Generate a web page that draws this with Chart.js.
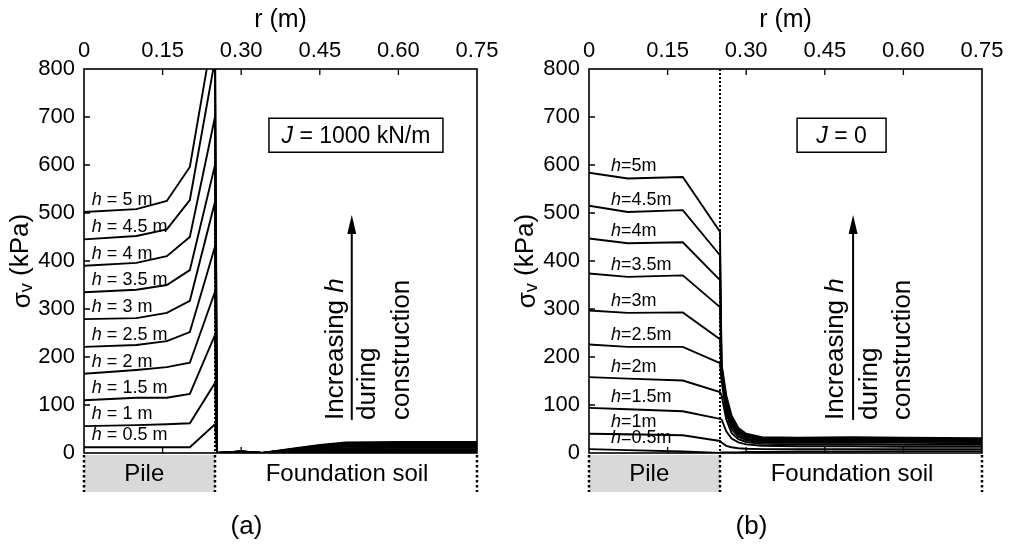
<!DOCTYPE html>
<html>
<head>
<meta charset="utf-8">
<script src="https://cdn.jsdelivr.net/npm/chart.js"></script>
<style>
  body { margin: 0; background: #fff; }
  canvas.panel { position: absolute; top: 0; }
</style>
</head>
<body>
<canvas id="chartA" class="panel" width="505" height="545" style="left:0px"></canvas>
<canvas id="chartB" class="panel" width="505" height="545" style="left:505px"></canvas>
<script>
// ---- data ----
const heights = ["0.5", "1", "1.5", "2", "2.5", "3", "3.5", "4", "4.5", "5"];
const rTicks = [0, 0.15, 0.30, 0.45, 0.60, 0.75];
const rTickLabels = ["0", "0.15", "0.30", "0.45", "0.60", "0.75"];
const sigmaTicks = [0, 100, 200, 300, 400, 500, 600, 700, 800];
const pileRadius = 0.25;

// panel (a) J = 1000 kN/m
const rA = [0, 0.10, 0.158, 0.202, 0.25, 0.254, 0.30, 0.34, 0.39, 0.45, 0.50, 0.60, 0.75];
const sigmaA_h05 = [12, 12, 12, 12, 60, 0, 1, 0, 1, 2, 2, 2, 2];
const sigmaA_h10 = [56, 58, 60, 62, 146, 0, 1, 0, 2, 4, 5, 5, 5];
const sigmaA_h15 = [110, 115, 115, 123, 246, 0, 2, 0, 3, 6, 8, 8, 8];
const sigmaA_h20 = [165, 173, 179, 188, 336, 0, 2, 0, 4, 8, 10, 11, 11];
const sigmaA_h25 = [221, 225, 233, 252, 430, 0, 2, 0, 5, 10, 13, 13, 13];
const sigmaA_h30 = [279, 281, 292, 317, 523, 0, 3, 0, 5, 11, 15, 15, 15];
const sigmaA_h35 = [335, 340, 350, 381, 600, 0, 3, 0, 6, 13, 17, 17, 17];
const sigmaA_h40 = [390, 396, 410, 450, 700, 0, 3, 0, 7, 14, 19, 19, 19];
const sigmaA_h45 = [445, 452, 466, 527, 820, 0, 3, 0, 7, 16, 21, 21, 21];
const sigmaA_h50 = [502, 508, 525, 596, 900, 0, 3, 0, 8, 17, 22, 23, 23];

// panel (b) J = 0
const rB = [0, 0.074, 0.179, 0.25, 0.253, 0.262, 0.272, 0.285, 0.30, 0.33, 0.40, 0.50, 0.60, 0.75];
const sigmaB_h05 = [8, 6, 3, 0, 1, 1, 1, 1, 2, 2, 3, 3, 4, 4];
const sigmaB_h10 = [40, 39, 37, 25, 22, 15, 12, 10, 9, 8, 8, 8, 8, 8];
const sigmaB_h15 = [94, 91, 87, 71, 70, 45, 30, 22, 18, 15, 14, 14, 13, 13];
const sigmaB_h20 = [158, 155, 151, 127, 120, 70, 42, 29, 23, 19, 18, 18, 17, 17];
const sigmaB_h25 = [226, 221, 221, 187, 150, 82, 50, 34, 27, 22, 21, 21, 21, 20];
const sigmaB_h30 = [297, 292, 293, 237, 160, 90, 57, 38, 30, 25, 24, 24, 24, 23];
const sigmaB_h35 = [374, 367, 370, 304, 170, 98, 62, 42, 33, 27, 26, 27, 26, 25];
const sigmaB_h40 = [447, 437, 439, 360, 175, 105, 67, 45, 35, 29, 28, 29, 28, 27];
const sigmaB_h45 = [515, 502, 506, 412, 180, 112, 72, 48, 37, 31, 30, 31, 30, 29];
const sigmaB_h50 = [584, 572, 575, 461, 185, 120, 78, 52, 40, 33, 32, 33, 32, 31];

const seriesA = [sigmaA_h05, sigmaA_h10, sigmaA_h15, sigmaA_h20, sigmaA_h25,
                 sigmaA_h30, sigmaA_h35, sigmaA_h40, sigmaA_h45, sigmaA_h50];
const seriesB = [sigmaB_h05, sigmaB_h10, sigmaB_h15, sigmaB_h20, sigmaB_h25,
                 sigmaB_h30, sigmaB_h35, sigmaB_h40, sigmaB_h45, sigmaB_h50];

const FONT = "'Liberation Sans', Arial, sans-serif";
Chart.defaults.font.family = FONT;
Chart.defaults.color = '#000';

// draws pieces of text one after the other, some in italic
function drawParts(ctx, parts, x, y, size) {
    parts.forEach(p => {
        ctx.font = (p.italic ? 'italic ' : '') + size + 'px ' + FONT;
        ctx.fillText(p.t, x, y);
        x += ctx.measureText(p.t).width;
    });
}

const panelDecor = {
    id: 'panelDecor',
    beforeDatasetsDraw(chart, args, o) {
        const {ctx, chartArea: ca, scales: {x}} = chart;
        ctx.save();
        ctx.strokeStyle = '#000';
        ctx.lineWidth = 2;
        ctx.setLineDash([2, 2]);
        const px = x.getPixelForValue(pileRadius);
        ctx.beginPath();
        ctx.moveTo(px, ca.top);
        ctx.lineTo(px, ca.bottom);
        ctx.stroke();
        ctx.restore();
    },
    afterDraw(chart, args, o) {
        const {ctx, chartArea: ca, scales: {x, y}} = chart;
        ctx.save();
        ctx.strokeStyle = '#000';
        ctx.fillStyle = '#000';

        // frame and inward ticks
        ctx.lineWidth = 1.6;
        ctx.strokeRect(ca.left, ca.top, ca.right - ca.left, ca.bottom - ca.top);
        ctx.lineWidth = 1.3;
        ctx.beginPath();
        rTicks.slice(1, -1).forEach(v => {
            const px = x.getPixelForValue(v);
            ctx.moveTo(px, ca.top); ctx.lineTo(px, ca.top + 6);
            ctx.moveTo(px, ca.bottom); ctx.lineTo(px, ca.bottom - 6);
        });
        sigmaTicks.slice(1, -1).forEach(v => {
            const py = y.getPixelForValue(v);
            ctx.moveTo(ca.left, py); ctx.lineTo(ca.left + 6, py);
        });
        ctx.stroke();

        // pile / foundation soil strip
        const x0 = x.getPixelForValue(0), xp = x.getPixelForValue(pileRadius), x1 = x.getPixelForValue(0.75);
        ctx.fillStyle = '#d9d9d9';
        ctx.fillRect(x0, ca.bottom + 2, xp - x0, 37);
        ctx.lineWidth = 2.5;
        ctx.setLineDash([2.5, 2.5]);
        ctx.beginPath();
        [x0, xp, x1].forEach(px => { ctx.moveTo(px, ca.bottom + 2); ctx.lineTo(px, ca.bottom + 39); });
        ctx.stroke();
        ctx.setLineDash([]);
        ctx.fillStyle = '#000';
        ctx.font = '24px ' + FONT;
        ctx.textAlign = 'center';
        ctx.textBaseline = 'middle';
        ctx.fillText('Pile', x.getPixelForValue(0.115), ca.bottom + 21);
        ctx.fillText('Foundation soil', x.getPixelForValue(0.502), ca.bottom + 21);
        ctx.font = '26px ' + FONT;
        ctx.fillText(o.panel, x.getPixelForValue(0.31), 527);

        // y title with subscript
        ctx.save();
        ctx.translate(30, (ca.top + ca.bottom) / 2);
        ctx.rotate(-Math.PI / 2);
        ctx.textAlign = 'left';
        ctx.textBaseline = 'alphabetic';
        ctx.font = '26px ' + FONT;
        const wS = ctx.measureText('σ').width;
        const wK = ctx.measureText(' (kPa)').width;
        ctx.font = '18px ' + FONT;
        const wV = ctx.measureText('v').width;
        const tx = -(wS + wV + wK) / 2;
        ctx.font = '26px ' + FONT;
        ctx.fillText('σ', tx, 0);
        ctx.font = '18px ' + FONT;
        ctx.fillText('v', tx + wS, 2);
        ctx.font = '26px ' + FONT;
        ctx.fillText(' (kPa)', tx + wS + wV, -2);
        ctx.restore();

        // curve labels
        ctx.textAlign = 'left';
        ctx.textBaseline = 'middle';
        o.series.forEach((s, i) => {
            const ly = y.getPixelForValue(s[o.labelIndex]) - 12;
            const parts = [{t: 'h', italic: true}, {t: o.labelFmt(heights[i])}];
            drawParts(ctx, parts, x.getPixelForValue(o.labelR), ly, 18);
        });

        // J box
        const bx = x.getPixelForValue(o.boxR), by = y.getPixelForValue(662);
        ctx.lineWidth = 1.5;
        ctx.strokeRect(bx - o.boxW / 2, by - 17, o.boxW, 34);
        let w = 0;
        o.boxParts.forEach(p => {
            ctx.font = (p.italic ? 'italic ' : '') + '23px ' + FONT;
            w += ctx.measureText(p.t).width;
        });
        drawParts(ctx, o.boxParts, bx - w / 2, by + 1, 23);

        // arrow and rotated notes
        const ax = x.getPixelForValue(o.arrowR);
        const yb = y.getPixelForValue(69), yt = y.getPixelForValue(496);
        ctx.lineWidth = 2;
        ctx.beginPath();
        ctx.moveTo(ax, yb);
        ctx.lineTo(ax, yt + 16);
        ctx.stroke();
        ctx.beginPath();
        ctx.moveTo(ax, yt);
        ctx.lineTo(ax - 4.5, yt + 19);
        ctx.lineTo(ax + 4.5, yt + 19);
        ctx.closePath();
        ctx.fill();

        const note = (r, parts) => {
            ctx.save();
            ctx.translate(x.getPixelForValue(r), yb);
            ctx.rotate(-Math.PI / 2);
            ctx.textAlign = 'left';
            ctx.textBaseline = 'alphabetic';
            drawParts(ctx, parts, 0, 0, 26);
            ctx.restore();
        };
        note(o.noteR[0], [{t: 'Increasing '}, {t: 'h', italic: true}]);
        note(o.noteR[1], [{t: 'during'}]);
        note(o.noteR[2], [{t: 'construction'}]);

        ctx.restore();
    }
};

function makeChart(id, rValues, series, decor) {
    const datasets = series.map((s, i) => ({
        label: 'h = ' + heights[i] + ' m',
        data: rValues.map((r, j) => ({x: r, y: s[j]})),
        borderColor: '#000',
        borderWidth: 1.9,
        pointRadius: 0,
        tension: 0,
        fill: false
    }));
    return new Chart(document.getElementById(id), {
        type: 'line',
        data: {datasets: datasets},
        options: {
            responsive: false,
            animation: false,
            devicePixelRatio: 1,
            layout: {padding: {left: 0, top: 0, right: 28, bottom: 92}},
            plugins: {
                legend: {display: false},
                tooltip: {enabled: false},
                panelDecor: Object.assign({series: series}, decor)
            },
            scales: {
                x: {
                    type: 'linear',
                    position: 'top',
                    min: 0,
                    max: 0.75,
                    afterBuildTicks: s => { s.ticks = rTicks.map(v => ({value: v})); },
                    afterFit: s => { s.height = 69; },
                    grid: {display: false, drawTicks: false},
                    border: {display: false},
                    ticks: {
                        autoSkip: false,
                        maxRotation: 0,
                        padding: 5,
                        font: {size: 22},
                        callback: (v, i) => rTickLabels[i]
                    },
                    title: {display: true, text: 'r (m)', font: {size: 25}, padding: {top: 5, bottom: 0}}
                },
                y: {
                    min: 0,
                    max: 800,
                    afterBuildTicks: s => { s.ticks = sigmaTicks.map(v => ({value: v})); },
                    afterFit: s => { s.width = 84; },
                    grid: {display: false, drawTicks: false},
                    border: {display: false},
                    ticks: {padding: 9, font: {size: 22}}
                }
            }
        },
        plugins: [panelDecor]
    });
}

makeChart('chartA', rA, seriesA, {
    panel: '(a)',
    labelIndex: 0,
    labelR: 0.015,
    labelFmt: h => ' = ' + h + ' m',
    boxR: 0.519,
    boxW: 174,
    boxParts: [{t: 'J', italic: true}, {t: ' = 1000 kN/m'}],
    arrowR: 0.511,
    noteR: [0.494, 0.555, 0.620]
});

makeChart('chartB', rB, seriesB, {
    panel: '(b)',
    labelIndex: 1,
    labelR: 0.042,
    labelFmt: h => '=' + h + 'm',
    boxR: 0.482,
    boxW: 89,
    boxParts: [{t: 'J', italic: true}, {t: ' = 0'}],
    arrowR: 0.504,
    noteR: [0.485, 0.550, 0.613]
});
</script>
</body>
</html>
